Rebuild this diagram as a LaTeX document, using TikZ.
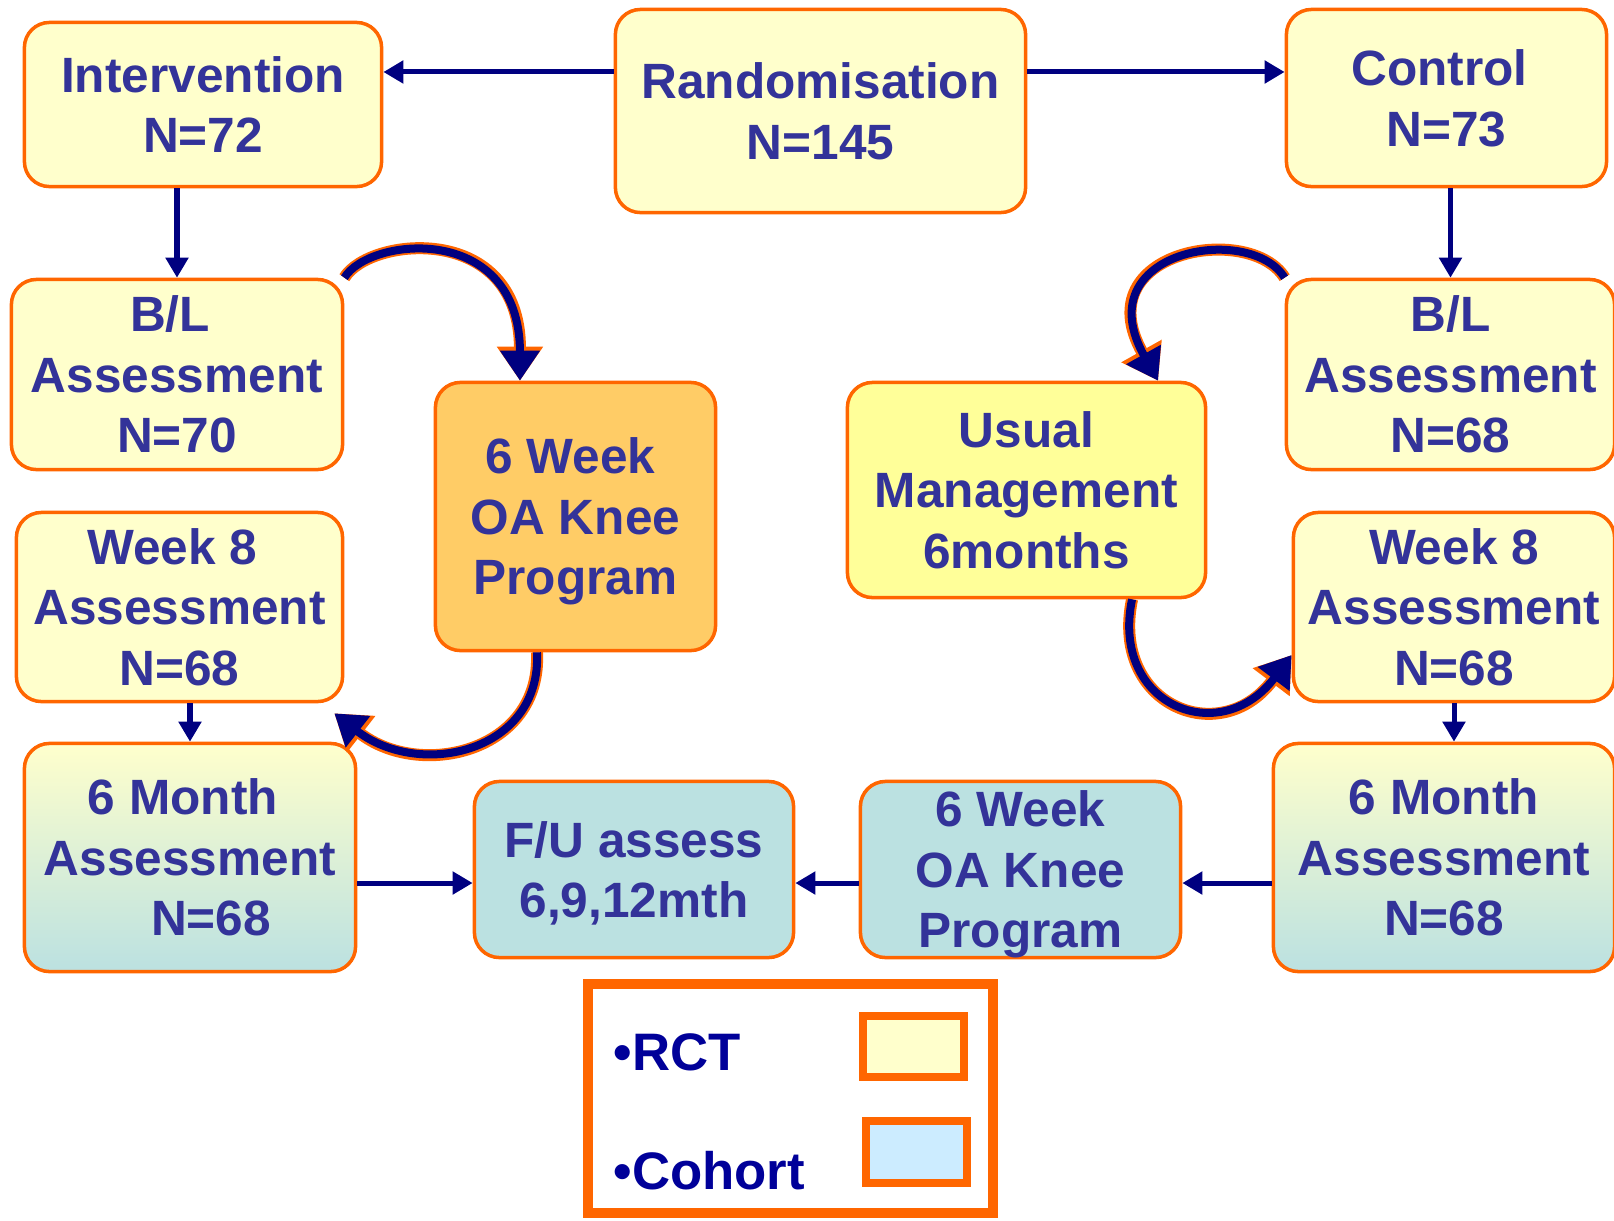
\documentclass[tikz,border=0pt]{standalone}
\usepackage{fontspec}
\setmainfont{Liberation Sans}
\usetikzlibrary{arrows.meta}
\definecolor{boxfill}{HTML}{FFFFCC}
\definecolor{boxline}{HTML}{FF6600}
\definecolor{boxtext}{HTML}{333399}
\definecolor{arrownavy}{HTML}{000080}
\definecolor{progfill}{HTML}{FFCC66}
\definecolor{usualfill}{HTML}{FFFF99}
\definecolor{cohortfill}{HTML}{BBE1E1}
\definecolor{legendtext}{HTML}{000099}
\definecolor{legendcohort}{HTML}{CCECFF}
\begin{document}
\begin{tikzpicture}[x=0.01cm,y=-0.01cm,
		box/.style={draw=boxline,line width=1pt,fill=boxfill,rounded corners=0.25cm,align=center,text=boxtext,font=\bfseries\fontsize{14.1}{17.2}\selectfont,inner sep=0pt,text depth=0pt},
		cohortbox/.style={box,fill=cohortfill},
		mixbox/.style={box,top color=boxfill,bottom color=cohortfill},
		link/.style={line width=0.05cm,draw=arrownavy,-{Triangle[length=0.2cm,width=0.22cm]}},
		swing/.style={line width=0.08cm,draw=arrownavy,-{Triangle[length=0.3cm,width=0.38cm]},
			preaction={draw=boxline,line width=0.12cm,-{Triangle[length=0.34cm,width=0.44cm]}}}]
		\useasboundingbox (0,0) rectangle (1614,1220);
		
		\node[box,minimum width=4.10cm,minimum height=2.03cm] (rand) at (820.5,111) {Randomisation\\N=145};
		\node[box,minimum width=3.57cm,minimum height=1.64cm] (interv) at (203,104.5) {Intervention\\N=72};
		\node[box,minimum width=3.20cm,minimum height=1.77cm] (ctrl) at (1446.5,98) {Control\hspace*{0.14cm}\\N=73};
		\node[box,minimum width=3.31cm,minimum height=1.90cm] (blL) at (177,374.5) {B/L\hspace*{0.14cm}\\Assessment\\N=70};
		\node[box,minimum width=3.28cm,minimum height=1.90cm] (blR) at (1450.5,374.5) {B/L\\Assessment\\N=68};
		\node[box,fill=progfill,minimum width=2.80cm,minimum height=2.68cm] (prog) at (575.5,516.5) {6 Week\hspace*{0.1cm}\\OA Knee\\Program};
		\node[box,fill=usualfill,minimum width=3.58cm,minimum height=2.15cm] (usual) at (1026.5,490) {Usual\\Management\\6months};
		\node[box,minimum width=3.26cm,minimum height=1.89cm] (w8L) at (179.5,607) {Week 8\hspace*{0.14cm}\\Assessment\\N=68};
		\node[box,minimum width=3.21cm,minimum height=1.89cm] (w8R) at (1454,607) {Week 8\\Assessment\\N=68};
		\node[mixbox,minimum width=3.31cm,minimum height=2.28cm] (m6L) at (190,857.5) {6 Month\hspace*{0.14cm}\\Assessment\\\hspace*{0.42cm}N=68};
		\node[cohortbox,minimum width=3.19cm,minimum height=1.76cm] (fu) at (634,869.5) {F/U assess\\6,9,12mth};
		\node[cohortbox,minimum width=3.20cm,minimum height=1.76cm] (progC) at (1020.5,869.5) {6 Week\\OA Knee\\Program};
		\node[mixbox,minimum width=3.41cm,minimum height=2.28cm] (m6R) at (1444,857.5) {6 Month\\Assessment\\N=68};
		
		\draw[link] ([yshift=0.39cm]rand.west) -- ([yshift=0.39cm]rand.west -| interv.east);
		\draw[link] ([yshift=0.39cm]rand.east) -- ([yshift=0.39cm]rand.east -| ctrl.west);
		\draw[link] (interv.south -| blL.north) -- (blL.north);
		\draw[link] (ctrl.south -| blR.north) -- (blR.north);
		\draw[link] (w8L.south -| m6L.north) -- (m6L.north);
		\draw[link] (w8R.south) -- (w8R.south |- m6R.north);
		\draw[link] ([yshift=-0.135cm]fu.west -| m6L.east) -- ([yshift=-0.135cm]fu.west);
		\draw[link] ([yshift=-0.135cm]progC.west) -- ([yshift=-0.135cm]fu.east);
		\draw[link] ([yshift=-0.135cm]progC.east -| m6R.west) -- ([yshift=-0.135cm]progC.east);
		
		\draw[swing] (blL.north east) .. controls (370,236) and (520,222) .. ([xshift=-0.555cm]prog.north);
		\draw[swing] (blR.north west) .. controls (1250,222) and (1085,250) .. ([xshift=1.315cm]usual.north);
		\draw[swing] ([xshift=-0.385cm]prog.south) .. controls (542,752) and (420,780) .. ([xshift=-0.1cm,yshift=-0.1cm]w8L.south east);
		\draw[swing] ([xshift=1.055cm]usual.south) .. controls (1110,705) and (1220,750) .. ([yshift=-0.48cm]w8R.west);
		
		\node[draw=boxline,line width=0.1cm,minimum width=4.05cm,minimum height=2.29cm,inner sep=0pt] (legend) at (790.5,1098.5) {};
		\node[draw=boxline,line width=0.08cm,fill=boxfill,minimum width=1.01cm,minimum height=0.61cm,inner sep=0pt] (rctkey) at (913.5,1046.5) {};
		\node[draw=boxline,line width=0.08cm,fill=legendcohort,minimum width=1.01cm,minimum height=0.62cm,inner sep=0pt] (cohortkey) at (916.5,1152) {};
		\node[anchor=west,text=legendtext,font=\bfseries\fontsize{15}{17}\selectfont,inner sep=0pt] (rctlabel) at (613,1052) {•RCT};
		\node[anchor=west,text=legendtext,font=\bfseries\fontsize{15}{17}\selectfont,inner sep=0pt] (cohortlabel) at (613,1171) {•Cohort};
	\end{tikzpicture}
\end{document}
